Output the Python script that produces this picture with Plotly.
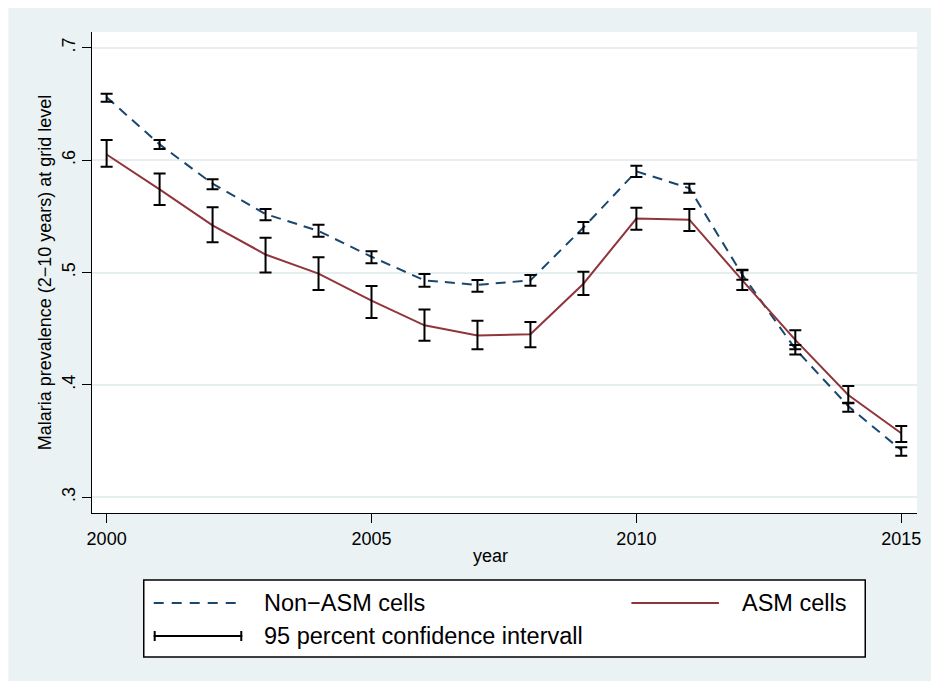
import plotly.graph_objects as go

# Mean malaria prevalence by year, with 95% confidence bounds
years = list(range(2000, 2016))

non_asm = [0.656, 0.614, 0.579, 0.552, 0.537, 0.514, 0.493, 0.489,
           0.493, 0.540, 0.590, 0.575, 0.498, 0.432, 0.381, 0.342]
non_asm_hi = [0.659, 0.618, 0.583, 0.5565, 0.5425, 0.519, 0.4987, 0.4933,
              0.4978, 0.545, 0.595, 0.579, 0.5025, 0.4355, 0.3842, 0.3445]
non_asm_lo = [0.652, 0.610, 0.574, 0.5464, 0.5318, 0.5082, 0.4874, 0.4829,
              0.4883, 0.535, 0.585, 0.571, 0.4935, 0.427, 0.3762, 0.337]

asm = [0.605, 0.574, 0.542, 0.516, 0.499, 0.475, 0.453, 0.444,
       0.445, 0.490, 0.548, 0.547, 0.493, 0.440, 0.391, 0.357]
asm_hi = [0.618, 0.588, 0.558, 0.531, 0.5135, 0.488, 0.467, 0.457,
          0.456, 0.5007, 0.5577, 0.5565, 0.502, 0.4486, 0.399, 0.3634]
asm_lo = [0.594, 0.560, 0.527, 0.500, 0.4844, 0.4595, 0.4393, 0.4317,
          0.4335, 0.480, 0.5381, 0.5369, 0.4845, 0.4317, 0.3836, 0.3492]

y_ticks = [0.3, 0.4, 0.5, 0.6, 0.7]
y_tick_labels = [".3", ".4", ".5", ".6", ".7"]
x_ticks = [2000, 2005, 2010, 2015]

legend_labels = ["Non\u2212ASM cells", "ASM cells", "95 percent confidence intervall"]

NAVY = "#1a476f"
MAROON = "#90353b"
BG = "#eaf2f3"
FONT = "Liberation Sans, Arial, Helvetica, sans-serif"

W, H = 931, 681
L, R, T, B = 92, 10, 32, 168
PW, PH = W - L - R, H - T - B


def px(x):
    return (x - L) / PW


def py(y):
    return (H - B - y) / PH


fig = go.Figure()

fig.add_trace(go.Scatter(
    x=years, y=non_asm, mode="lines",
    line=dict(color=NAVY, width=2, dash="10px,7px"),
    showlegend=False, hoverinfo="skip"))
fig.add_trace(go.Scatter(
    x=years, y=asm, mode="lines",
    line=dict(color=MAROON, width=2),
    showlegend=False, hoverinfo="skip"))


def ci_trace(mid, lo, hi):
    return go.Scatter(
        x=years, y=mid, mode="markers",
        marker=dict(size=1, color="rgba(0,0,0,0)"),
        error_y=dict(type="data", symmetric=False,
                     array=[h - m for h, m in zip(hi, mid)],
                     arrayminus=[m - l for m, l in zip(mid, lo)],
                     color="black", thickness=2, width=6),
        showlegend=False, hoverinfo="skip")


fig.add_trace(ci_trace(non_asm, non_asm_lo, non_asm_hi))
fig.add_trace(ci_trace(asm, asm_lo, asm_hi))

shapes = [
    # white outer margin strips on top and left
    dict(type="rect", xref="paper", yref="paper", x0=px(0), x1=px(W + 5),
         y0=py(8), y1=py(-5), fillcolor="white", line=dict(width=0), layer="below"),
    dict(type="rect", xref="paper", yref="paper", x0=px(-5), x1=px(8),
         y0=py(H + 5), y1=py(-5), fillcolor="white", line=dict(width=0), layer="below"),
    # legend box
    dict(type="rect", xref="paper", yref="paper", x0=px(144), x1=px(869),
         y0=py(657), y1=py(580), fillcolor="white",
         line=dict(color="black", width=1.5)),
    # legend samples
    dict(type="line", xref="paper", yref="paper", x0=px(154), x1=px(243),
         y0=py(603), y1=py(603), line=dict(color=NAVY, width=2, dash="10px,8px")),
    dict(type="line", xref="paper", yref="paper", x0=px(634), x1=px(722),
         y0=py(603), y1=py(603), line=dict(color=MAROON, width=2)),
    dict(type="line", xref="paper", yref="paper", x0=px(154), x1=px(243),
         y0=py(636), y1=py(636), line=dict(color="black", width=2)),
    dict(type="line", xref="paper", yref="paper", x0=px(155), x1=px(155),
         y0=py(641), y1=py(631), line=dict(color="black", width=2)),
    dict(type="line", xref="paper", yref="paper", x0=px(242), x1=px(242),
         y0=py(641), y1=py(631), line=dict(color="black", width=2)),
]

annotations = [
    dict(text=legend_labels[0], x=px(263), y=py(603), xanchor="left", yanchor="middle"),
    dict(text=legend_labels[1], x=px(743), y=py(603), xanchor="left", yanchor="middle"),
    dict(text=legend_labels[2], x=px(263), y=py(636), xanchor="left", yanchor="middle"),
]
for a in annotations:
    a.update(xref="paper", yref="paper", showarrow=False,
             font=dict(family=FONT, size=23.5, color="black"))

annotations += [
    dict(text="year", x=px(492), y=py(556), xref="paper", yref="paper",
         xanchor="center", yanchor="middle", showarrow=False,
         font=dict(family=FONT, size=18, color="black")),
]

fig.update_layout(
    width=W, height=H,
    margin=dict(l=L, r=R, t=T, b=B, pad=0),
    paper_bgcolor=BG, plot_bgcolor="white",
    font=dict(family=FONT, size=18, color="black"),
    shapes=shapes, annotations=annotations,
    xaxis=dict(range=[1999.724, 2015.297], tickvals=x_ticks,
               showgrid=False, zeroline=False,
               ticks="outside", ticklen=9, tickwidth=1, tickcolor="black",
               showline=True, linecolor="black", linewidth=1,
               tickfont=dict(size=18)),
    yaxis=dict(range=[0.286, 0.714], tickvals=y_ticks, ticktext=y_tick_labels,
               tickangle=-90, showgrid=True, gridcolor="#e6eef0", gridwidth=2,
               zeroline=False,
               ticks="outside", ticklen=9, tickwidth=1, tickcolor="black",
               showline=True, linecolor="black", linewidth=1,
               tickfont=dict(size=18),
               title=dict(text="Malaria prevalence (2\u221210 years) at grid level",
                          font=dict(family=FONT, size=18, color="black"),
                          standoff=2)),
)

fig.write_html("out.html")
